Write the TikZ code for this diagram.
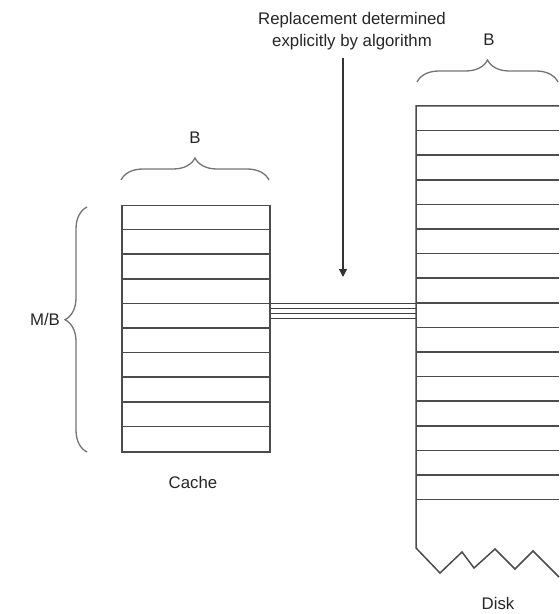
\documentclass[tikz,border=0pt]{standalone}
\usepackage{fontspec}
\setmainfont{Liberation Sans}
\usetikzlibrary{arrows.meta,positioning,decorations.pathreplacing}
\tikzset{
  box/.style={draw=black!70, line width=0.75pt},
  link/.style={draw=black!75, line width=0.6pt},
  brc/.style={decorate, decoration={brace, amplitude=11pt}, draw=black!55, line width=0.65pt},
  lbl/.style={font=\fontsize{8.4}{11}\selectfont, text=black!85, inner sep=1pt},
  arr/.style={-{Triangle[length=4pt,width=4pt]}, draw=black!80, line width=0.6pt},
}

\begin{document}
\begin{tikzpicture}[x=0.5pt,y=-0.5pt]
  \useasboundingbox (0,0) rectangle (559,614);
  % cache: 10 blocks
  \node[box, minimum width=74pt, minimum height=123pt, inner sep=0pt,
        anchor=north west] (cache) at (121,205) {};
  \foreach \i in {1,...,9}
    \draw[box] ([yshift=-\i*12.3pt]cache.north west) -- ([yshift=-\i*12.3pt]cache.north east);
  % disk, open to the right and at the bottom
  \coordinate (dtop) at (416,106);
  \coordinate (dbot) at (416,548);
  \draw[box] (559,106) -- (dtop) -- (dbot) -- (440,573) -- (462,552) -- (474,568)
    -- (495,549) -- (515,569) -- (533,551) -- (559,577);
  \foreach \i in {1,...,16}
    \draw[box] ([yshift=-\i*12.3pt]dtop) -- ++(143,0);
  % transfer lines
  \foreach \k in {0,...,3}
    \draw[link] ([yshift={12.5pt-\k*2.5pt}]cache.east) -- ([yshift={12.5pt-\k*2.5pt}]cache.east -| dtop);
  % braces
  \coordinate (cb1) at (121,180); \coordinate (cb2) at (269,180);
  \draw[brc] (cb1) -- (cb2);
  \coordinate (db1) at (417,82); \coordinate (db2) at (558,82);
  \draw[brc] (db1) -- (db2);
  \coordinate (mb1) at (87,452); \coordinate (mb2) at (87,207);
  \draw[brc, decoration={aspect=0.54}] (mb1) -- (mb2);
  % labels
  \node[lbl] (bcache) at (195,138) {B};
  \node[lbl] (bdisk)  at (489,40)  {B};
  \node[lbl] (mb)     at (45,319)  {M/B};
  \node[lbl] (lcache) at (193,482) {Cache};
  \node[lbl] (ldisk)  at (498,603) {Disk};
  \node[lbl, align=center] (note) at (352,31) {Replacement determined\\explicitly by algorithm};
  \coordinate (tail) at (343,58);
  \coordinate (tip) at (343,277);
  \draw[arr] (tail) -- (tip);
\end{tikzpicture}
\end{document}
